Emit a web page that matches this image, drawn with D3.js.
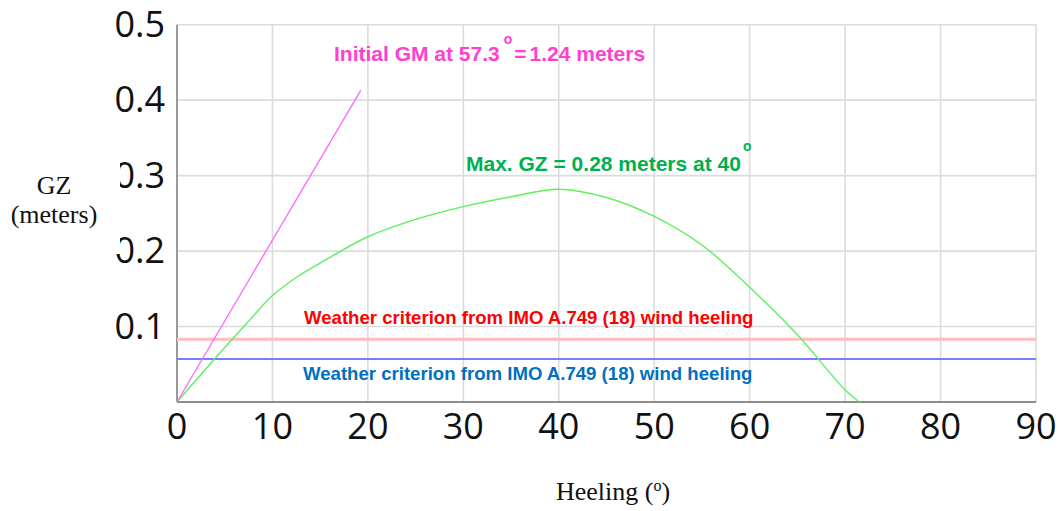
<!DOCTYPE html>
<html>
<head>
<meta charset="utf-8">
<script src="https://cdn.jsdelivr.net/npm/d3@7"></script>
<style>
  body { margin: 0; background: #fff; }
  svg { display: block; }
</style>
</head>
<body>
<svg id="chart" width="1061" height="511"></svg>
<script>
// =====================
// Data
// =====================
const heelDeg  = [0, 4, 7.5, 10, 12.5, 15, 20, 25, 30, 35, 40, 45, 50, 55, 60, 65, 70, 71.5];   // Heeling angle (deg)
const gzValues = [0, 0.058, 0.107, 0.141, 0.165, 0.184, 0.219, 0.242, 0.259, 0.272, 0.282, 0.271, 0.246, 0.208, 0.152, 0.089, 0.016, 0];
const gmDeg    = [0, 19.25];          // Initial GM tangent line
const gmValues = [0, 0.413];
const criteria = [0.083, 0.057];      // Weather criterion lines (red, blue)
const xTicks   = [0, 10, 20, 30, 40, 50, 60, 70, 80, 90];
const yTicks   = [0.1, 0.2, 0.3, 0.4, 0.5];
const critLabel = 'Weather criterion from IMO A.749 (18) wind heeling';

const
  plotLeft = 177, plotRight = 1036,   // plot area
  plotTop = 24.7, plotBottom = 402;

const svg = d3.select('#chart');

const x = d3.scaleLinear([0, 90], [plotLeft, plotRight]);
const y = d3.scaleLinear([0, 0.5], [plotBottom, plotTop]);

// --- Grid
svg.append('g')
  .selectAll('line')
  .data(xTicks.slice(1))
  .join('line')
  .attr('x1', d => x(d)).attr('x2', d => x(d))
  .attr('y1', plotTop).attr('y2', plotBottom)
  .attr('stroke', '#dcdcdc').attr('stroke-width', 1.6);

svg.append('g')
  .selectAll('line')
  .data(yTicks)
  .join('line')
  .attr('x1', plotLeft).attr('x2', plotRight)
  .attr('y1', d => y(d)).attr('y2', d => y(d))
  .attr('stroke', '#dcdcdc').attr('stroke-width', 1.6);

// --- Axes (lines only, labels drawn below)
svg.append('line')
  .attr('x1', plotLeft).attr('x2', plotLeft).attr('y1', plotTop).attr('y2', plotBottom)
  .attr('stroke', '#9a9a9a').attr('stroke-width', 2);
svg.append('line')
  .attr('x1', plotLeft).attr('x2', plotRight).attr('y1', plotBottom).attr('y2', plotBottom)
  .attr('stroke', '#8c8c8c').attr('stroke-width', 2);

// --- Tick labels
svg.append('g')
  .selectAll('text')
  .data(xTicks)
  .join('text')
  .attr('x', d => x(d))
  .attr('y', plotBottom + 37)
  .attr('text-anchor', 'middle')
  .attr('font-family', 'Open Sans')
  .attr('font-size', 36)
  .attr('fill', '#111')
  .text(d => d);

svg.append('g')
  .selectAll('text')
  .data(yTicks)
  .join('text')
  .attr('x', 165)
  .attr('y', d => y(d) + 12.3)
  .attr('text-anchor', 'end')
  .attr('font-family', 'Open Sans')
  .attr('font-size', 36)
  .attr('fill', '#111')
  .text(d => d3.format('.1f')(d));

// --- Criterion lines
const critColors = ['#ffbcbc', '#7b7bff'];
const critWidths = [3, 2];
svg.append('g')
  .selectAll('line')
  .data(criteria)
  .join('line')
  .attr('x1', plotLeft).attr('x2', plotRight)
  .attr('y1', d => y(d)).attr('y2', d => y(d))
  .attr('stroke', (d, i) => critColors[i])
  .attr('stroke-width', (d, i) => critWidths[i]);

// --- GZ curve
const line = d3.line().curve(d3.curveCatmullRom.alpha(0.5));
svg.append('path')
  .attr('d', line(heelDeg.map((d, i) => [x(d), y(gzValues[i])])))
  .attr('fill', 'none')
  .attr('stroke', '#5ef05e')
  .attr('stroke-width', 1.4);

// --- Initial GM line
svg.append('path')
  .attr('d', d3.line()(gmDeg.map((d, i) => [x(d), y(gmValues[i])])))
  .attr('fill', 'none')
  .attr('stroke', '#ff66ff')
  .attr('stroke-width', 1.3);

// --- Annotations
const bold = t => t.attr('font-family', 'Liberation Sans, Arial').attr('font-weight', 'bold');

const gmText = svg.append('text').attr('x', 334).attr('y', 60.5).attr('font-size', 21).attr('fill', '#ff3fcf').call(bold);
gmText.append('tspan').text('Initial GM at 57.3');
gmText.append('tspan').attr('dx', 4).attr('dy', -17).attr('font-size', 14).text('o');
gmText.append('tspan').attr('dx', 2).attr('dy', 17).text('=');
gmText.append('tspan').attr('dx', 3).text('1.24 meters');

const maxText = svg.append('text').attr('x', 466).attr('y', 170.5).attr('font-size', 21).attr('fill', '#00b050').call(bold);
maxText.append('tspan').text('Max. GZ = 0.28 meters at 40');
maxText.append('tspan').attr('dx', 2).attr('dy', -20).attr('font-size', 14).text('o');

svg.append('g')
  .selectAll('text')
  .data(criteria)
  .join('text')
  .attr('x', (d, i) => i ? 303 : 304)
  .attr('y', (d, i) => i ? 379.5 : 323.5)
  .attr('font-size', 18.6)
  .attr('fill', (d, i) => i ? '#0070c0' : '#ff0000')
  .call(bold)
  .text(critLabel);

// --- Axis titles (the GZ box hides part of the tick labels, as in the source)
svg.append('rect')
  .attr('x', 0).attr('y', 150).attr('width', 120).attr('height', 104)
  .attr('fill', '#fff');

const serif = t => t.attr('font-family', 'Liberation Serif, Times New Roman').attr('font-size', 26).attr('fill', '#111');
svg.append('text').attr('x', 54).attr('y', 193.5).attr('text-anchor', 'middle').call(serif).text('GZ');
svg.append('text').attr('x', 54).attr('y', 222.5).attr('text-anchor', 'middle').call(serif).text('(meters)');

const heel = svg.append('text').attr('x', 556).attr('y', 499.5).call(serif);
heel.append('tspan').text('Heeling (');
heel.append('tspan').attr('dy', -9).attr('font-size', 16).text('o');
heel.append('tspan').attr('dy', 9).text(')');
</script>
</body>
</html>
